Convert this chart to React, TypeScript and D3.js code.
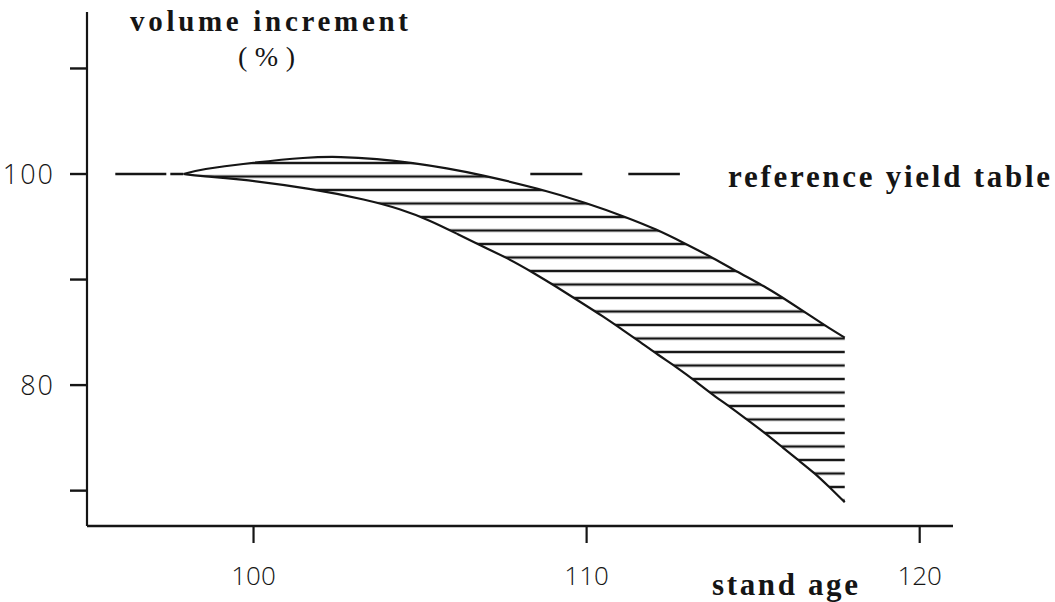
import React from "react";
import * as d3 from "d3";

// ---- data ----
const upperAge = [97.9, 98.4, 99.9, 101.6, 102.6, 103.7, 104.8, 105.8, 106.8, 108.6, 110.0, 111.2, 112.1, 112.9, 113.8, 114.6, 115.4, 116.1, 116.7, 117.3, 117.75];
const upperVal = [100.0, 100.45, 101.05, 101.6, 101.65, 101.45, 101.05, 100.55, 99.95, 98.6, 97.25, 95.9, 94.75, 93.5, 92.05, 90.6, 89.25, 87.85, 86.6, 85.35, 84.5];

const lowerAge = [97.9, 98.4, 99.4, 101.8, 103.4, 104.4, 105.3, 106.1, 106.8, 107.65, 108.4, 109.1, 109.8, 110.5, 111.05, 111.6, 112.15, 112.75, 113.3, 113.8, 114.35, 114.85, 115.4, 115.9, 116.35, 116.85, 117.3, 117.75];
const lowerVal = [100.0, 99.8, 99.6, 98.6, 97.55, 96.7, 95.6, 94.35, 93.25, 92.0, 90.65, 89.3, 87.9, 86.5, 85.3, 84.1, 82.85, 81.6, 80.3, 79.05, 77.85, 76.65, 75.35, 74.05, 72.9, 71.65, 70.3, 68.9];

const refAge = [95.85, 112.8];
const refValue = 100;

const xTicks = [100, 110, 120];
const yTicks = [70, 80, 90, 100, 110];
const yTickLabels = [100, 80];

const yTitle = ["volume increment", "(%)"];
const xTitle = "stand age";
const refLabel = "reference yield table";

export default function App() {
  const x = d3.scaleLinear().domain([95, 121]).range([87, 953]);
  const y = d3.scaleLinear().domain([66.65, 115.35]).range([526, 12]);

  const upper: [number, number][] = upperAge.map((a, i) => [a, upperVal[i]]);
  const lower: [number, number][] = lowerAge.map((a, i) => [a, lowerVal[i]]);

  const line = d3
    .line<[number, number]>()
    .x((d) => x(d[0]))
    .y((d) => y(d[1]))
    .curve(d3.curveBasis);

  const upperPath = line(upper) || "";
  const lowerPath = line(lower) || "";
  const lowerRev = line([...lower].reverse()) || "";
  const regionPath = upperPath + "L" + lowerRev.slice(1) + "Z";

  const refPath =
    d3.line<number>().x((a) => x(a)).y(() => y(refValue))(refAge) || "";

  const ink = "#151515";
  const sans = "'Open Sans', 'Liberation Sans', sans-serif";
  const serif = "'Liberation Serif', 'Times New Roman', serif";

  return (
    <svg
      width={1055}
      height={602}
      style={{ position: "absolute", left: 0, top: 0, background: "#fff" }}
    >
      <defs>
        <pattern
          id="hatch"
          patternUnits="userSpaceOnUse"
          x={0}
          y={163 - 6.75}
          width={1055}
          height={13.5}
        >
          <line x1={0} x2={1055} y1={6.75} y2={6.75} stroke={ink} strokeWidth={2.4} />
        </pattern>
      </defs>

      {/* axes */}
      <line x1={x(95)} x2={x(95)} y1={y(115.35)} y2={y(66.65)} stroke={ink} strokeWidth={2.2} />
      <line x1={x(95)} x2={x(121)} y1={y(66.65)} y2={y(66.65)} stroke={ink} strokeWidth={2.6} />

      {yTicks.map((t) => (
        <line key={"yt" + t} x1={x(95) - 17} x2={x(95)} y1={y(t)} y2={y(t)} stroke={ink} strokeWidth={2.4} />
      ))}
      {yTickLabels.map((t) => (
        <text
          key={"yl" + t}
          x={x(95) - 32}
          y={y(t) + 10}
          textAnchor="end"
          fontFamily={sans}
          fontWeight={300}
          fontSize={27}
          letterSpacing={2}
          fill={ink}
        >
          {t}
        </text>
      ))}

      {xTicks.map((t) => (
        <line key={"xt" + t} x1={x(t)} x2={x(t)} y1={y(66.65)} y2={y(66.65) + 17} stroke={ink} strokeWidth={2.2} />
      ))}
      {xTicks.map((t) => (
        <text
          key={"xl" + t}
          x={x(t)}
          y={585}
          textAnchor="middle"
          fontFamily={sans}
          fontWeight={300}
          fontSize={26}
          fill={ink}
        >
          {t}
        </text>
      ))}

      {/* hatched region */}
      <path d={regionPath} fill="url(#hatch)" stroke="none" />
      <path d={upperPath} fill="none" stroke={ink} strokeWidth={2.2} />
      <path d={lowerPath} fill="none" stroke={ink} strokeWidth={2.2} />

      {/* reference yield table line */}
      <path
        d={refPath}
        fill="none"
        stroke={ink}
        strokeWidth={2.4}
        strokeDasharray="51 4 13 347 52 46 52 60"
      />

      {/* titles */}
      <text x={130} y={31} fontFamily={serif} fontWeight={700} fontSize={29} textLength={278} lengthAdjust="spacing" fill={ink}>
        {yTitle[0]}
      </text>
      <text x={238} y={66} fontFamily={serif} fontWeight={400} fontSize={28} textLength={57} lengthAdjust="spacing" fill={ink}>
        {yTitle[1]}
      </text>
      <text x={728} y={187} fontFamily={serif} fontWeight={700} fontSize={31} textLength={322} lengthAdjust="spacing" fill={ink}>
        {refLabel}
      </text>
      <text x={712} y={595} fontFamily={serif} fontWeight={700} fontSize={31} textLength={146} lengthAdjust="spacing" fill={ink}>
        {xTitle}
      </text>
    </svg>
  );
}
